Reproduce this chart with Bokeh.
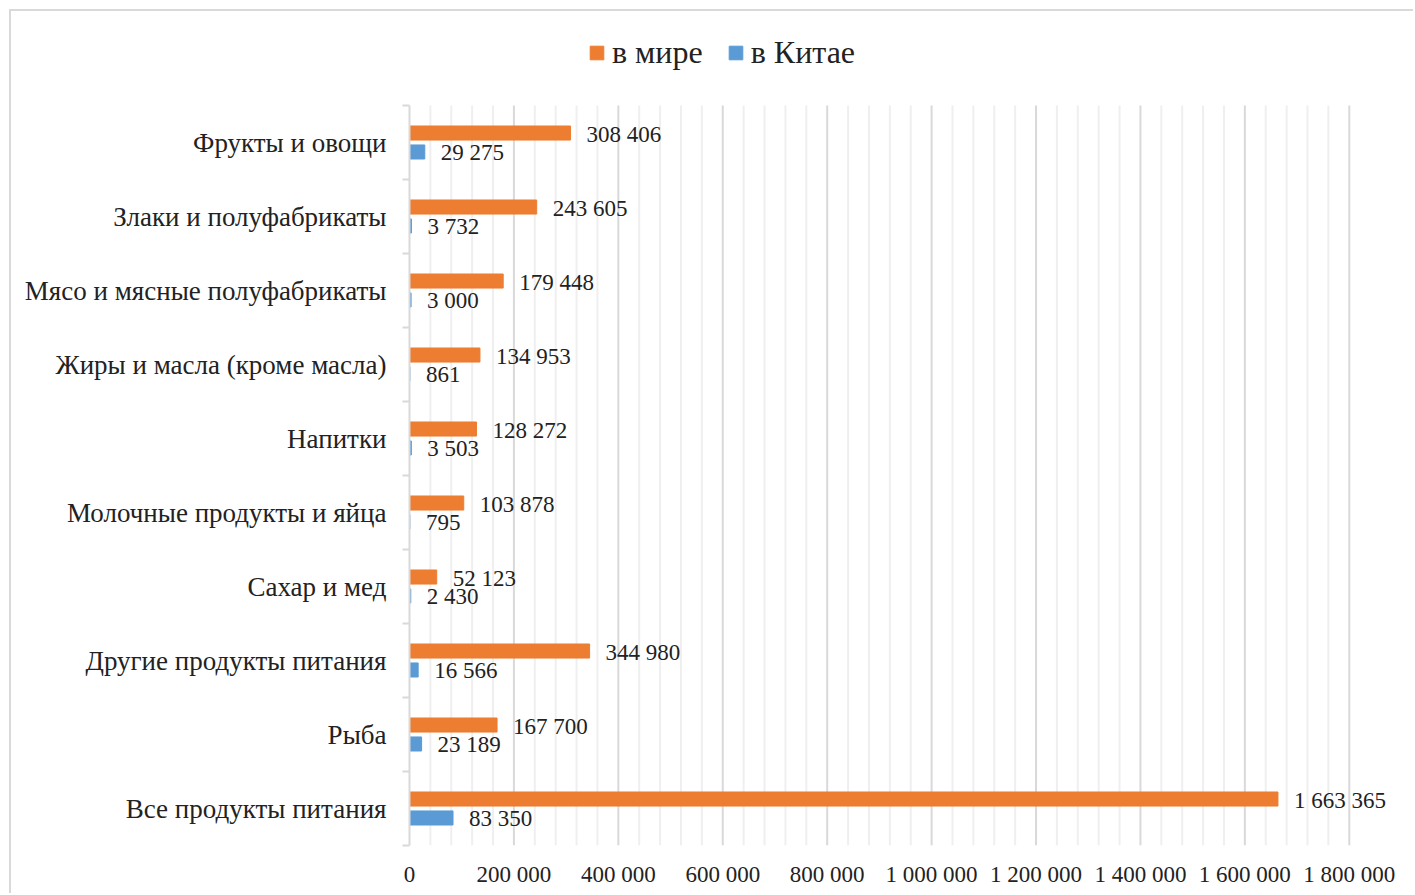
from bokeh.plotting import figure
from bokeh.models import (ColumnDataSource, FixedTicker, LabelSet,
                          Legend, LegendItem, CustomJSTickFormatter, Range1d)
from bokeh.embed import file_html
from bokeh.resources import INLINE

categories = ["Фрукты и овощи", "Злаки и полуфабрикаты", "Мясо и мясные полуфабрикаты",
              "Жиры и масла (кроме масла)", "Напитки", "Молочные продукты и яйца",
              "Сахар и мед", "Другие продукты питания", "Рыба", "Все продукты питания"]
world = [308406, 243605, 179448, 134953, 128272, 103878, 52123, 344980, 167700, 1663365]
china = [29275, 3732, 3000, 861, 3503, 795, 2430, 16566, 23189, 83350]
series_names = ["в мире", "в Китае"]
x_ticks = [0, 200000, 400000, 600000, 800000, 1000000, 1200000, 1400000, 1600000, 1800000]
colors = ["#ED7D31", "#5B9BD5"]

FONT = "Liberation Serif"
n = len(categories)
pos = [n - 0.5 - i for i in range(n)]

def fmt(v):
    return f"{v:,}".replace(",", " ")

src_w = ColumnDataSource(dict(y=[p + 0.128 for p in pos], v=world, t=[fmt(v) for v in world]))
src_c = ColumnDataSource(dict(y=[p - 0.128 for p in pos], v=china, t=[fmt(v) for v in china]))

# frame: top at page y=11, categories occupy the lower 740px (74px per category)
y_top = n + 94 / 74
p = figure(width=1404, height=884, output_backend="svg", toolbar_location=None,
           x_range=Range1d(0, 1900000), y_range=Range1d(0, y_top),
           min_border_left=398, min_border_top=0, min_border_right=14, min_border_bottom=50)
p.styles = {"margin-left": "9px", "margin-top": "9px",
            "border-left": "2px solid #d9d9d9", "border-top": "2px solid #d9d9d9"}
p.outline_line_color = None
p.xgrid.grid_line_color = None
p.ygrid.grid_line_color = None

# vertical grid lines (minor every 40 000, major every 200 000), spanning the category area
minor_x = [i * 40000 for i in range(46) if (i * 40000) % 200000 != 0]
p.segment(x0=minor_x, x1=minor_x, y0=[0] * len(minor_x), y1=[n] * len(minor_x),
          line_color="#efefef", line_width=2)
p.segment(x0=x_ticks[1:], x1=x_ticks[1:], y0=[0] * (len(x_ticks) - 1), y1=[n] * (len(x_ticks) - 1),
          line_color="#d9d9d9", line_width=2)

rw = p.hbar(y="y", right="v", left=0, height=0.19, source=src_w, color=colors[0])
rc = p.hbar(y="y", right="v", left=0, height=0.19, source=src_c, color=colors[1])

for src in (src_w, src_c):
    p.add_layout(LabelSet(x="v", y="y", text="t", source=src, x_offset=16, y_offset=-1,
                          text_baseline="middle", text_font=FONT, text_font_size="23px",
                          text_color="#222222"))

# x axis
p.xaxis.ticker = FixedTicker(ticks=x_ticks)
p.xaxis.formatter = CustomJSTickFormatter(
    code="return tick.toString().replace(/\\B(?=(\\d{3})+(?!\\d))/g, ' ');")
p.xaxis.axis_line_color = None
p.xaxis.major_tick_line_color = None
p.xaxis.minor_tick_line_color = None
p.xaxis.major_tick_out = 0
p.xaxis.major_label_standoff = 16
p.xaxis.major_label_text_font = FONT
p.xaxis.major_label_text_font_size = "23px"
p.xaxis.major_label_text_color = "#222222"

# y axis
p.yaxis.bounds = (0, n)
p.yaxis.ticker = FixedTicker(ticks=pos, minor_ticks=list(range(n + 1)))
p.yaxis.major_label_overrides = {pos[i]: categories[i] for i in range(n)}
p.yaxis.axis_line_color = "#d9d9d9"
p.yaxis.axis_line_width = 2
p.yaxis.major_tick_line_color = None
p.yaxis.major_tick_out = 0
p.yaxis.major_tick_in = 0
p.yaxis.minor_tick_line_color = "#d9d9d9"
p.yaxis.minor_tick_line_width = 2
p.yaxis.minor_tick_out = 7
p.yaxis.minor_tick_in = 0
p.yaxis.major_label_standoff = 16
p.yaxis.major_label_text_font = FONT
p.yaxis.major_label_text_font_size = "27px"
p.yaxis.major_label_text_color = "#222222"

legend = Legend(items=[LegendItem(label=series_names[0], renderers=[rw]),
                       LegendItem(label=series_names[1], renderers=[rc])],
                orientation="horizontal", location=(179, 774),
                label_text_font=FONT, label_text_font_size="32px", label_text_color="#222222",
                glyph_width=17, glyph_height=17, label_standoff=7, spacing=24,
                padding=0, margin=0, border_line_color=None, background_fill_alpha=0)
p.add_layout(legend, "center")

open("out.html", "w").write(file_html(p, INLINE))
